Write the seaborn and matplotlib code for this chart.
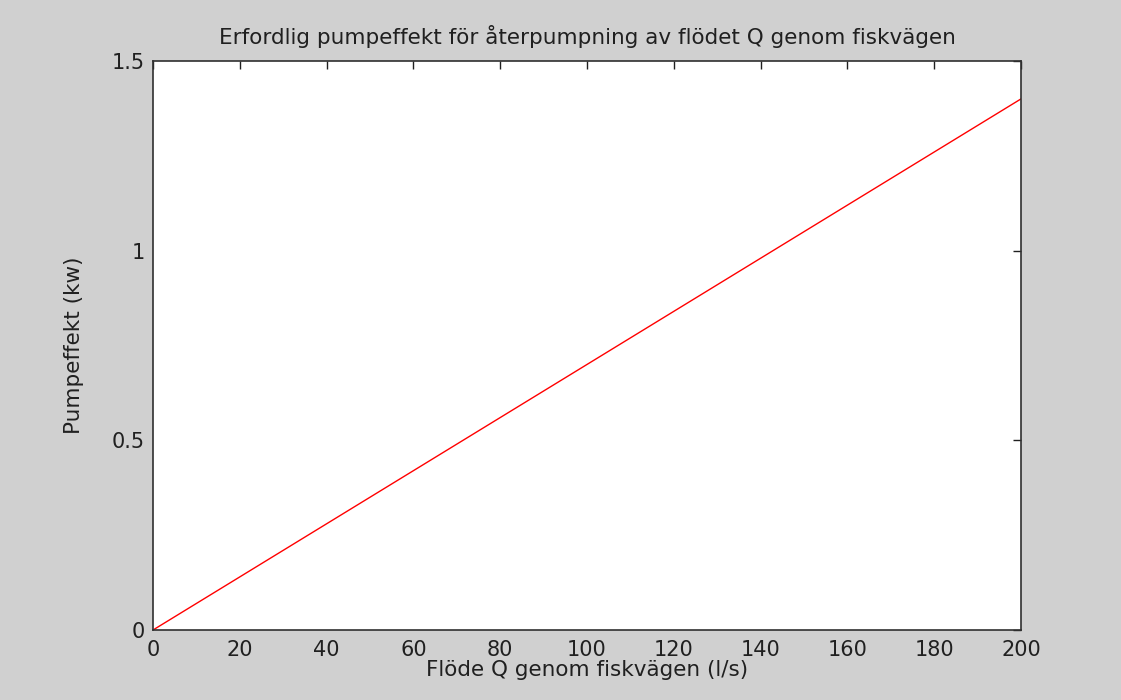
import pandas as pd
import matplotlib
matplotlib.use("Agg")
import matplotlib.pyplot as plt
import seaborn as sns

# values (straight line from origin to 1.4 kW at 200 l/s)
flow = [0, 50, 100, 150, 200]
power = [0.0, 0.35, 0.70, 1.05, 1.40]
x_ticks = [0, 20, 40, 60, 80, 100, 120, 140, 160, 180, 200]
y_ticks = [0, 0.5, 1, 1.5]
y_tick_labels = ["0", "0.5", "1", "1.5"]

df = pd.DataFrame({"flow": flow, "power": power})

sns.set_style("white")
plt.rcParams['font.family'] = ['DejaVu Sans']

fig = plt.figure(figsize=(11.21, 7.0), dpi=100, facecolor="#d0d0d0")
ax = fig.add_axes([0.1365, 0.100, 0.7743, 0.8129])
ax.set_facecolor("white")

sns.lineplot(data=df, x="flow", y="power", color="red", linewidth=1.0, ax=ax)

ax.set_xlim(0, 200)
ax.set_ylim(0, 1.5)
ax.set_xticks(x_ticks)
ax.set_yticks(y_ticks)
ax.set_yticklabels(y_tick_labels)
ax.tick_params(direction="in", length=6, width=1, top=True, right=True,
               labelsize=15, colors="#202020")
ax.tick_params(axis="x", pad=7)
ax.tick_params(axis="y", pad=6)
for s in ax.spines.values():
    s.set_visible(True)
    s.set_color("#303030")
    s.set_linewidth(1.2)

ax.set_title("Erfordlig pumpeffekt för återpumpning av flödet Q genom fiskvägen",
             fontsize=15.5, color="#202020", pad=12)
ax.set_xlabel("Flöde Q genom fiskvägen (l/s)", fontsize=15.5, color="#202020", labelpad=0)
ax.set_ylabel("Pumpeffekt (kw)", fontsize=15.5, color="#202020", labelpad=20)

fig.savefig("out.png", dpi=100, facecolor=fig.get_facecolor())
